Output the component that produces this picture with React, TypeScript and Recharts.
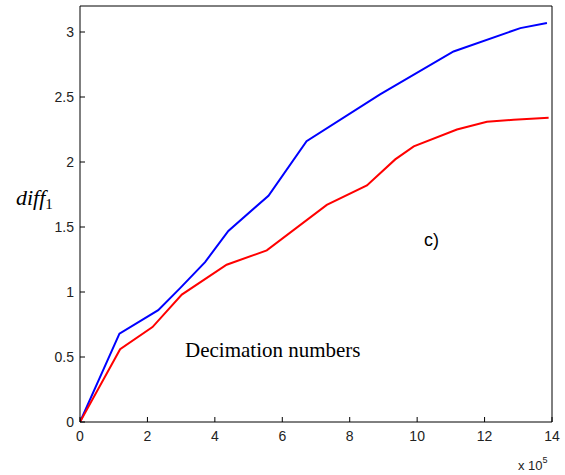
import { Line, LineChart, XAxis, YAxis } from "recharts";

// decimation numbers (x 10^5) and diff_1 values
const blueX = [0, 1.17, 2.32, 2.97, 3.71, 4.4, 5.59, 6.72, 8.9, 11.08, 13.06, 13.85];
const blueY = [0, 0.68, 0.86, 1.03, 1.23, 1.47, 1.74, 2.16, 2.52, 2.85, 3.03, 3.07];

const redX = [0, 1.19, 2.15, 3.02, 4.35, 5.54, 7.32, 8.51, 9.35, 9.9, 11.18, 12.07, 12.86, 13.9];
const redY = [0, 0.56, 0.73, 0.98, 1.21, 1.32, 1.67, 1.82, 2.02, 2.12, 2.25, 2.31, 2.325, 2.34];

const xTicks = [0, 2, 4, 6, 8, 10, 12, 14];
const yTicks = [0, 0.5, 1, 1.5, 2, 2.5, 3];

const blueData = blueX.map((x, i) => ({ x, y: blueY[i] }));
const redData = redX.map((x, i) => ({ x, y: redY[i] }));

const sans = "Liberation Sans, Arial, sans-serif";
const serif = "Liberation Serif, Times New Roman, serif";
const TICK = 5;

// matlab style: tick marks point into the plot
function BottomTick({ x, y, payload }: any) {
  return (
    <g>
      <line x1={x} y1={y} x2={x} y2={y - TICK} stroke="#000" />
      <text x={x} y={y + 19} textAnchor="middle" fontSize={14} fontFamily={sans} fill="#222">
        {payload.value}
      </text>
    </g>
  );
}

function LeftTick({ x, y, payload }: any) {
  return (
    <g>
      <line x1={x} y1={y} x2={x + TICK} y2={y} stroke="#000" />
      <text x={x - 6} y={y + 5} textAnchor="end" fontSize={14} fontFamily={sans} fill="#222">
        {payload.value}
      </text>
    </g>
  );
}

function TopTick({ x, y }: any) {
  return <line x1={x} y1={y} x2={x} y2={y + TICK} stroke="#000" />;
}

function RightTick({ x, y }: any) {
  return <line x1={x} y1={y} x2={x - TICK} y2={y} stroke="#000" />;
}

export default function App() {
  return (
    <div style={{ position: "absolute", left: 0, top: 0, width: 565, height: 475, background: "#fff" }}>
      <LineChart width={565} height={475} margin={{ top: 5, right: 12, bottom: 0, left: 0 }}>
        <XAxis
          xAxisId="bottom"
          type="number"
          dataKey="x"
          domain={[0, 14]}
          ticks={xTicks}
          allowDataOverflow
          height={53}
          stroke="#000"
          tickLine={false}
          tickSize={0}
          tickMargin={0}
          tick={<BottomTick />}
        />
        <XAxis
          xAxisId="top"
          orientation="top"
          type="number"
          dataKey="x"
          domain={[0, 14]}
          ticks={xTicks}
          height={1}
          stroke="#000"
          tickLine={false}
          tickSize={0}
          tickMargin={0}
          tick={<TopTick />}
        />
        <YAxis
          yAxisId="left"
          type="number"
          domain={[0, 3.2]}
          ticks={yTicks}
          allowDataOverflow
          width={80}
          stroke="#000"
          tickLine={false}
          tickSize={0}
          tickMargin={0}
          tick={<LeftTick />}
        />
        <YAxis
          yAxisId="right"
          orientation="right"
          type="number"
          domain={[0, 3.2]}
          ticks={yTicks}
          width={1}
          stroke="#000"
          tickLine={false}
          tickSize={0}
          tickMargin={0}
          tick={<RightTick />}
        />
        <Line
          xAxisId="bottom"
          yAxisId="left"
          data={blueData}
          dataKey="y"
          type="linear"
          stroke="#0000ff"
          strokeWidth={2}
          dot={false}
          isAnimationActive={false}
        />
        <Line
          xAxisId="bottom"
          yAxisId="left"
          data={redData}
          dataKey="y"
          type="linear"
          stroke="#ff0000"
          strokeWidth={2}
          dot={false}
          isAnimationActive={false}
        />
      </LineChart>
      <div
        style={{
          position: "absolute",
          left: 16,
          top: 186,
          fontFamily: serif,
          fontSize: 22,
          fontStyle: "italic",
          lineHeight: "24px",
        }}
      >
        diff<span style={{ fontStyle: "normal", fontSize: 15, verticalAlign: -4 }}>1</span>
      </div>
      <div
        style={{
          position: "absolute",
          left: 424,
          top: 229,
          fontFamily: sans,
          fontSize: 18,
          lineHeight: "22px",
        }}
      >
        c)
      </div>
      <div
        style={{
          position: "absolute",
          left: 185,
          top: 337,
          fontFamily: serif,
          fontSize: 21,
          lineHeight: "26px",
        }}
      >
        Decimation numbers
      </div>
      <div
        style={{
          position: "absolute",
          left: 518,
          top: 452,
          fontFamily: sans,
          fontSize: 13,
          lineHeight: "16px",
          color: "#222",
        }}
      >
        x 10<span style={{ fontSize: 9, verticalAlign: 7 }}>5</span>
      </div>
    </div>
  );
}
